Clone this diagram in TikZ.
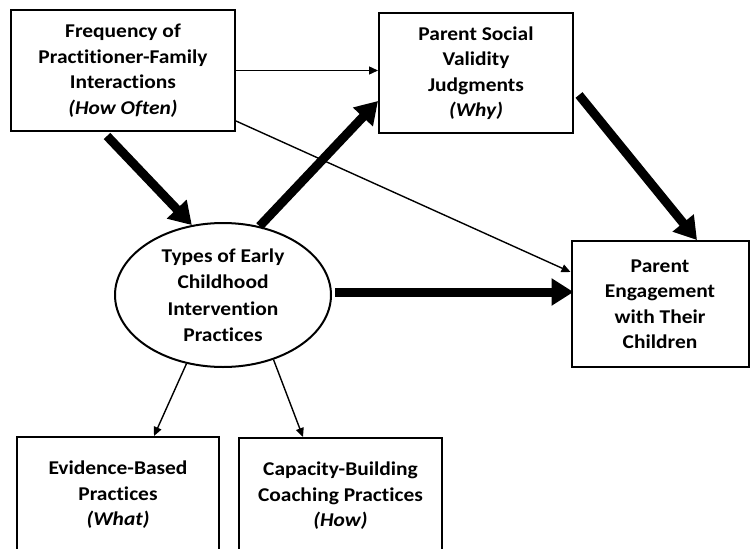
\documentclass[tikz,border=0pt]{standalone}
\usepackage{fontspec}
\setmainfont[FakeStretch=1.1,RawFeature=-liga]{Carlito}
\usetikzlibrary{arrows.meta,shapes.geometric}
\tikzset{
  box/.style={draw,line width=2pt,rectangle,inner sep=0pt,align=center,
    font=\fontsize{19.5}{25.5}\selectfont\bfseries},
  ovalnode/.style={draw,line width=2pt,ellipse,inner sep=0pt,align=center,
    minimum width=216pt,minimum height=144pt,
    font=\fontsize{19.5}{26.5}\selectfont\bfseries},
  thin/.style={line width=1.4pt,-{Triangle[length=9pt,width=8pt]}},
  thick/.style={line width=9pt,-{Triangle[length=22pt,width=26pt]}}
}
\begin{document}
\begin{tikzpicture}[x=1pt,y=-1pt]
\useasboundingbox (0,0) rectangle (750,549);
\clip (0,0) rectangle (750,549);
\node[box,minimum width=224pt,minimum height=121pt] (A) at (123,70.5)
  {Frequency of\\Practitioner-Family\\Interactions\\\textit{(How Often)}};
\node[box,minimum width=194pt,minimum height=120pt] (B) at (476,73)
  {Parent Social\\Validity\\Judgments\\\textit{(Why)}};
\node[box,minimum width=177pt,minimum height=126pt] (C) at (660,304)
  {Parent\\Engagement\\with Their\\Children};
\node[ovalnode] (E) at (223,295)
  {Types of Early\\Childhood\\Intervention\\Practices};
\node[box,minimum width=202pt,minimum height=116pt] (D) at (118,495)
  {Evidence-Based\\Practices\\\textit{(What)}};
\node[box,minimum width=203pt,minimum height=116pt] (F) at (340.5,496)
  {Capacity-Building\\Coaching Practices\\\textit{(How)}};
% connectors
\draw[thin] (A.east) -- (A.east -| B.west);
\draw[thin] ([yshift=11pt]A.south east) -- ([yshift=32pt]C.west);
\draw[thick] ([xshift=-16pt,yshift=-4pt]A.south) -- (E.114);
\draw[thick] (E.62) -- ([yshift=-28pt]B.west);
\draw[thick] ([xshift=5pt,yshift=-22pt]B.east) -- ([xshift=37pt]C.north);
\draw[thick] ([xshift=3pt,yshift=3pt]E.east) -- ([xshift=3pt,yshift=3pt]E.east -| C.west);
\draw[thin] (E.-118) -- ([xshift=36pt]D.north);
\draw[thin] (E.-52) -- ([xshift=-37.5pt]F.north);
\end{tikzpicture}
\end{document}
